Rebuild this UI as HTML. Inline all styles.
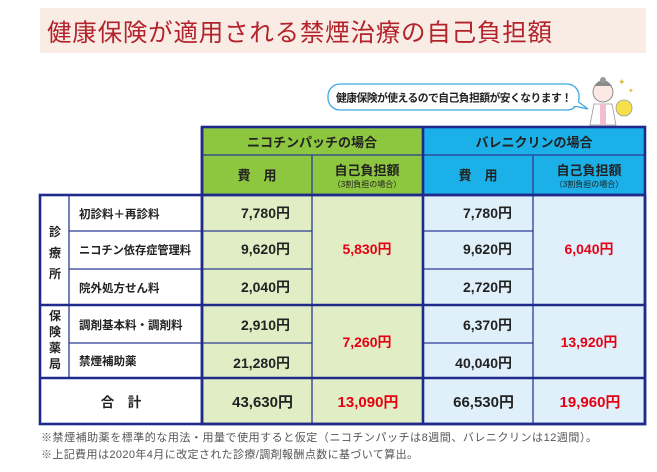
<!DOCTYPE html>
<html><head><meta charset="utf-8"><style>
html,body{margin:0;padding:0;background:#fff;width:657px;height:472px;overflow:hidden}
svg{display:block}
text{font-family:"Liberation Sans","Noto Sans CJK JP",sans-serif}
</style></head><body>
<svg width="657" height="472" viewBox="0 0 657 472" xmlns="http://www.w3.org/2000/svg">
<rect x="40" y="8" width="606" height="45" fill="#f8ece4"/>
<text x="47" y="41" font-size="24.5" fill="#b3232c" textLength="505">健康保険が適用される禁煙治療の自己負担額</text>
<rect x="328" y="84" width="251" height="26" rx="12" fill="#fff" stroke="#3fa9e0" stroke-width="1.3"/>
<path d="M576 100 L588 109 L574 106 Z" fill="#fff" stroke="#3fa9e0" stroke-width="1.3"/>
<rect x="570" y="99" width="8" height="7" fill="#fff"/>
<text x="336" y="101.5" font-size="10.8" fill="#222" font-weight="bold" textLength="236">健康保険が使えるので自己負担額が安くなります！</text>
<circle cx="603" cy="92" r="10" fill="#fce8e4" stroke="#777" stroke-width="0.8"/>
<path d="M594 86 Q603 74 612 86 Z" fill="#8a8a8a"/>
<circle cx="603" cy="80" r="3" fill="#999"/>
<path d="M594 104 L612 104 L616 125 L590 125 Z" fill="#fff" stroke="#999" stroke-width="0.8"/>
<rect x="600" y="104" width="6" height="21" fill="#f4bcd0"/>
<circle cx="624" cy="108" r="8" fill="#f7e04a" stroke="#999" stroke-width="0.8"/>
<text x="618" y="85" font-size="9" fill="#d8c030">✦</text>
<text x="628" y="93" font-size="7" fill="#d8c030">✦</text>
<rect x="202" y="127" width="220" height="68" fill="#8dc63f"/>
<rect x="424" y="127" width="221" height="68" fill="#1bb0e8"/>
<rect x="202" y="195" width="220" height="229" fill="#e1edc5"/>
<rect x="424" y="195" width="221" height="229" fill="#dff0fb"/>
<rect x="40" y="195" width="162" height="229" fill="#fff"/>
<g stroke="#2d3b96" stroke-width="1.3" fill="none">
<line x1="202" y1="155" x2="645" y2="155"/>
<line x1="312" y1="155" x2="312" y2="424"/>
<line x1="533" y1="155" x2="533" y2="424"/>
<line x1="69" y1="195" x2="69" y2="378"/>
<line x1="69" y1="231" x2="312" y2="231"/><line x1="424" y1="231" x2="533" y2="231"/>
<line x1="69" y1="269" x2="312" y2="269"/><line x1="424" y1="269" x2="533" y2="269"/>
<line x1="69" y1="343" x2="312" y2="343"/><line x1="424" y1="343" x2="533" y2="343"/>
</g>
<g stroke="#1f2a8a" stroke-width="2.6" fill="none">
<rect x="202" y="127" width="443" height="297"/>
<rect x="40" y="195" width="605" height="229"/>
<line x1="202" y1="127" x2="202" y2="424"/>
<line x1="423" y1="127" x2="423" y2="424"/>
<line x1="40" y1="305" x2="645" y2="305"/>
<line x1="40" y1="378" x2="645" y2="378"/>
<line x1="202" y1="195" x2="645" y2="195"/>
</g>
<g font-weight="bold" fill="#222">
<text x="312" y="147" font-size="13" text-anchor="middle">ニコチンパッチの場合</text>
<text x="534" y="147" font-size="13" text-anchor="middle">バレニクリンの場合</text>
<text x="257" y="180" font-size="13" text-anchor="middle">費　用</text>
<text x="478" y="180" font-size="13" text-anchor="middle">費　用</text>
<text x="367" y="175" font-size="13" text-anchor="middle">自己負担額</text>
<text x="589" y="175" font-size="13" text-anchor="middle">自己負担額</text>
<text x="367" y="187" font-size="8" font-weight="normal" text-anchor="middle">（3割負担の場合）</text>
<text x="589" y="187" font-size="8" font-weight="normal" text-anchor="middle">（3割負担の場合）</text>
<text x="55" y="236" font-size="12" text-anchor="middle">診</text>
<text x="55" y="257" font-size="12" text-anchor="middle">療</text>
<text x="55" y="278" font-size="12" text-anchor="middle">所</text>
<text x="55" y="320" font-size="12" text-anchor="middle">保</text>
<text x="55" y="336" font-size="12" text-anchor="middle">険</text>
<text x="55" y="352" font-size="12" text-anchor="middle">薬</text>
<text x="55" y="368" font-size="12" text-anchor="middle">局</text>
<text x="79" y="218" font-size="11.5">初診料＋再診料</text>
<text x="79" y="254" font-size="11.5" textLength="112" lengthAdjust="spacingAndGlyphs">ニコチン依存症管理料</text>
<text x="79" y="292" font-size="11.5">院外処方せん料</text>
<text x="79" y="329" font-size="11.5">調剤基本料・調剤料</text>
<text x="79" y="365" font-size="11.5">禁煙補助薬</text>
<text x="121" y="407" font-size="13.5" text-anchor="middle">合　計</text>
<g font-size="14" text-anchor="end">
<text x="290" y="218">7,780円</text>
<text x="290" y="254">9,620円</text>
<text x="290" y="292">2,040円</text>
<text x="290" y="330">2,910円</text>
<text x="290" y="368">21,280円</text>
<text x="512" y="218">7,780円</text>
<text x="512" y="254">9,620円</text>
<text x="512" y="292">2,720円</text>
<text x="512" y="330">6,370円</text>
<text x="512" y="368">40,040円</text>
<text x="293" y="407" font-size="15">43,630円</text>
<text x="514" y="407" font-size="15">66,530円</text>
</g>
<g fill="#e60012" font-size="14" text-anchor="middle">
<text x="367" y="254">5,830円</text>
<text x="589" y="254">6,040円</text>
<text x="367" y="347">7,260円</text>
<text x="589" y="347">13,920円</text>
<text x="368" y="407" font-size="15">13,090円</text>
<text x="590" y="407" font-size="15">19,960円</text>
</g>
</g>
<text x="41" y="441" font-size="11" fill="#555" textLength="556">※禁煙補助薬を標準的な用法・用量で使用すると仮定（ニコチンパッチは8週間、バレニクリンは12週間）。</text>
<text x="41" y="458" font-size="11" fill="#555" textLength="377">※上記費用は2020年4月に改定された診療/調剤報酬点数に基づいて算出。</text>
</svg>
</body></html>
